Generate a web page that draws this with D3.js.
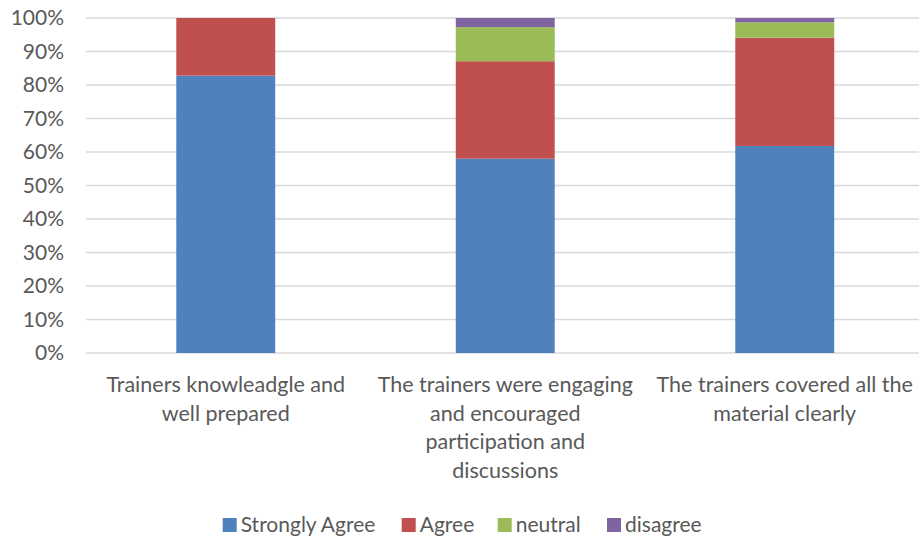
<!DOCTYPE html>
<html>
<head>
<meta charset="utf-8">
<script src="https://cdn.jsdelivr.net/npm/d3@7"></script>
<style>
  html, body { margin: 0; padding: 0; background: #fff; }
  svg { display: block; font-family: "Lato", "Open Sans", sans-serif; }
</style>
</head>
<body>
<svg id="chart" width="919" height="537"></svg>
<script>
const categories = [
  ["Trainers knowleadgle and", "well prepared"],
  ["The trainers were engaging", "and encouraged", "participation and", "discussions"],
  ["The trainers covered all the", "material clearly"]
];
const seriesNames = ["Strongly Agree", "Agree", "neutral", "disagree"];
const seriesColors = ["#4f81bd", "#c0504d", "#9bbb59", "#8064a2"];
const stronglyAgree = [0.828, 0.580, 0.618];
const agree = [0.172, 0.291, 0.323];
const neutral = [0.000, 0.102, 0.046];
const disagree = [0.000, 0.027, 0.013];
const yTicks = [0, 0.1, 0.2, 0.3, 0.4, 0.5, 0.6, 0.7, 0.8, 0.9, 1.0];

const seriesValues = [stronglyAgree, agree, neutral, disagree];
const rows = categories.map((c, i) => {
  const r = { key: i };
  seriesNames.forEach((s, j) => { r[s] = seriesValues[j][i]; });
  return r;
});

const svg = d3.select("#chart");
const W = 919;
const plotLeft = 86, plotTop = 18, plotBottom = 353;
const step = 279.5;
const x = d3.scaleBand().domain(d3.range(categories.length))
  .range([plotLeft, plotLeft + step * categories.length])
  .paddingInner(0.646).paddingOuter(0.323);
const y = d3.scaleLinear().domain([0, 1]).range([plotBottom, plotTop]);

// gridlines
svg.append("g").selectAll("line").data(yTicks).join("line")
  .attr("x1", plotLeft).attr("x2", W)
  .attr("y1", d => y(d)).attr("y2", d => y(d))
  .attr("stroke", "#d9d9d9").attr("stroke-width", 1.5);

// y-axis tick labels
const yAxis = d3.axisLeft(y).tickValues(yTicks).tickFormat(d3.format(".0%")).tickSize(0).tickPadding(0);
const yg = svg.append("g").attr("transform", `translate(${plotLeft - 22},0)`).call(yAxis);
yg.select(".domain").remove();
yg.selectAll("text").attr("fill", "#595959").style("font-size", "21px").style("font-family", "Lato, sans-serif");

// stacked bars
const stack = d3.stack().keys(seriesNames);
const layers = stack(rows);
svg.append("g").selectAll("g").data(layers).join("g")
  .attr("fill", (d, i) => seriesColors[i])
  .selectAll("rect").data(d => d).join("rect")
  .attr("x", (d, i) => x(i))
  .attr("width", x.bandwidth())
  .attr("y", d => y(d[1]))
  .attr("height", d => Math.max(0, y(d[0]) - y(d[1])));

// category labels
const lab = svg.append("g").attr("fill", "#595959").style("font-size", "21.5px").attr("text-anchor", "middle");
categories.forEach((lines, i) => {
  const cx = x(i) + x.bandwidth() / 2;
  const t = lab.append("text").attr("x", cx).attr("y", 392);
  lines.forEach((ln, k) => {
    t.append("tspan").attr("x", cx).attr("dy", k === 0 ? 0 : 28.6).text(ln);
  });
});

// legend
const legendX = [222.7, 401.7, 497.7, 607];
const lg = svg.append("g").style("font-size", "21px");
seriesNames.forEach((s, i) => {
  lg.append("rect").attr("x", legendX[i]).attr("y", 518).attr("width", 14).attr("height", 14).attr("fill", seriesColors[i]);
  lg.append("text").attr("x", legendX[i] + 18).attr("y", 532).attr("fill", "#595959").text(s);
});
</script>
</body>
</html>
